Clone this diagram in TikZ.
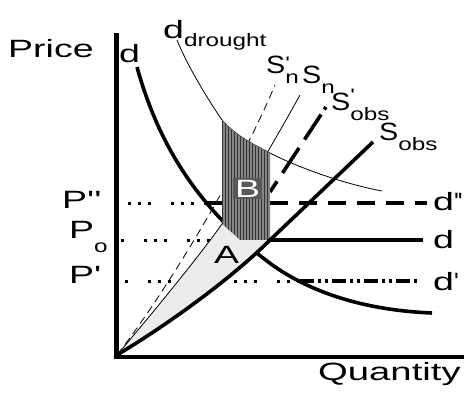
\documentclass[tikz,border=0pt]{standalone}
\usepackage{fontspec}
\setmainfont{Liberation Sans}
\usepackage{graphicx}
\usetikzlibrary{patterns}
\newcommand{\hs}[2][1.5]{\scalebox{#1}[1]{#2}}
\newcommand{\hsub}[1]{\scalebox{1.35}[1]{\fontsize{18}{18}\selectfont #1}}
\newcommand{\pq}{\textquotesingle}
\tikzset{
  lbl/.style={inner sep=0pt, anchor=base west, font=\fontsize{25}{25}\selectfont},
  heavy/.style={line width=3.6pt},
  fine/.style={line width=0.8pt},
  dotrow/.style={line width=3pt, dash pattern=on 3pt off 7pt on 3pt off 7pt on 3pt off 20pt},
  dotrowb/.style={line width=3pt, dash pattern=on 3pt off 20pt on 3pt off 7pt on 3pt off 7pt},
}
\begin{document}
\begin{tikzpicture}[x=1pt, y=-1pt]
    \useasboundingbox (0,0) rectangle (464,392);

    % Price levels
    \draw[dotrow] (127.5,203) -- (204,203);
    \draw[heavy] (204,203) -- (222,203);
    \draw[heavy, dash pattern=on 18pt off 11pt] (270,203) -- (427,203);
    \draw[dotrowb] (120.5,240) -- (240,240);
    \draw[heavy] (270,240) -- (423,240);
    \draw[dotrowb] (124.5,281) -- (297,281);
    \draw[heavy, dash pattern=on 14pt off 4pt on 3pt off 4pt on 3pt off 4pt] (300,281) -- (420,281);

    % Demand and supply curves
    \draw[heavy] (137,67) .. controls (160,150) and (200,205) .. (257,253)
        .. controls (300,290) and (360,310) .. (432,313);
    \draw[fine] (177,40) .. controls (187,65) and (207,98) .. (222,120)
        .. controls (237,137) and (255,145) .. (270,153)
        .. controls (295,166) and (340,183) .. (382,191);
    \draw[fine, dash pattern=on 8pt off 5pt] (117,355) .. controls (160,300) and (235,180) .. (275,85);
    \draw[fine] (222,224) .. controls (245,192) and (275,140) .. (300,95);
    \draw[heavy, dash pattern=on 3pt off 6pt on 30pt off 10pt on 30pt off 10pt on 30pt off 10pt] (326,107) -- (270,192);

    % Areas
    \path[preaction={fill=black!48}, pattern=vertical lines, pattern color=black!80]
        (222,224) -- (222,120) .. controls (237,137) and (255,145) .. (270,153)
        -- (270,240) -- (240,240) -- cycle;
    \fill[gray!15] (117,355) .. controls (140,328) and (195,262) .. (222,224)
        -- (240,240) -- (270,240) .. controls (235,275) and (175,320) .. (117,355) -- cycle;
    \draw[fine] (117,355) .. controls (140,328) and (195,262) .. (222,224);
    \draw[heavy] (117,355) .. controls (175,320) and (235,275) .. (270,240) -- (373,142);

    % Axes
    \draw[line width=4.5pt] (116.5,33) -- (116.5,357) -- (464,357);

    % Labels
    \node[lbl] (price) at (8,57) {\hs{Price}};
    \node[lbl] (quantity) at (318,380) {\hs[1.53]{Quantity}};
    \node[lbl] (dtop) at (119,62) {\hs{d}};
    \node[lbl] (ddrought) at (163,38) {\hs{d}\raisebox{-8pt}{\hsub{drought}}};
    \node[lbl] (snp) at (266,73) {\hs[1.15]{S}\rlap{\raisebox{4pt}{\hsub{\pq}}}\raisebox{-10pt}{\hsub{n}}};
    \node[lbl] (sn) at (302,83) {\hs[1.15]{S}\raisebox{-10pt}{\hsub{n}}};
    \node[lbl] (sobsp) at (331,110) {\hs[1.15]{S}\rlap{\raisebox{9pt}{\hsub{\pq}}}\raisebox{-10pt}{\hsub{obs}}};
    \node[lbl] (sobs) at (379,140) {\hs[1.15]{S}\raisebox{-10pt}{\hsub{obs}}};
    \node[lbl] (ppp) at (62,208) {\hs{P\pq\pq}};
    \node[lbl] (po) at (69,238) {\hs{P}\raisebox{-14pt}{\hsub{o}}};
    \node[lbl] (pp) at (69,283) {\hs{P\pq}};
    \node[lbl] (dpp) at (433,210) {\hs{d}\pq\kern-1pt\pq};
    \node[lbl] (dpo) at (433,248) {\hs{d}};
    \node[lbl] (dp) at (433,290) {\hs{d}\pq};
    \node[lbl] (areaA) at (214,263) {\hs{A}};
    \node[lbl, text=white, fill=black!65, inner sep=2pt] (areaB) at (233,197) {\hs{B}};
\end{tikzpicture}
\end{document}
